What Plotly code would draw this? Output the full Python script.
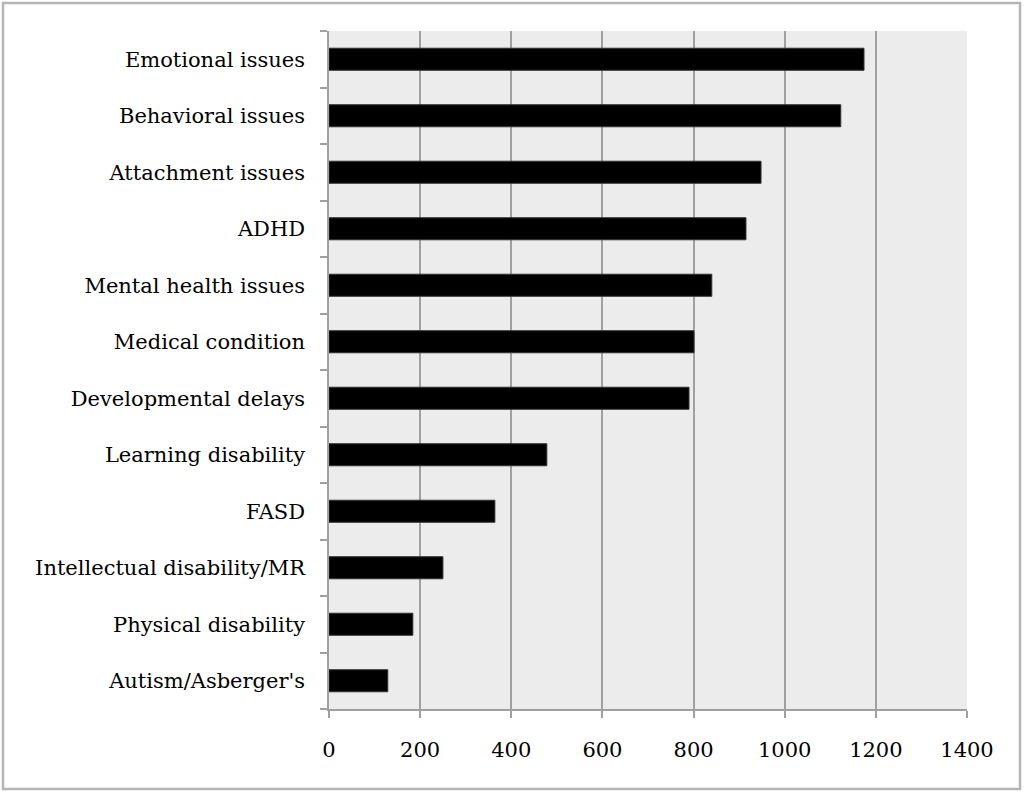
import plotly.graph_objects as go

categories = ["Emotional issues", "Behavioral issues", "Attachment issues", "ADHD",
              "Mental health issues", "Medical condition", "Developmental delays",
              "Learning disability", "FASD", "Intellectual disability/MR",
              "Physical disability", "Autism/Asberger's"]
values = [1174, 1123, 948, 915, 840, 801, 790, 478, 364, 250, 184, 129]
x_ticks = [0, 200, 400, 600, 800, 1000, 1200, 1400]

W, H = 1024, 794
L, R, T, B = 329, 57, 31, 85
pw, ph = W - L - R, H - T - B

fig = go.Figure(go.Bar(
    y=categories[::-1], x=values[::-1], orientation="h",
    marker=dict(color="black", line=dict(color="#333333", width=1)),
))

font = dict(family="DejaVu Serif", size=21, color="#000000")

fig.update_layout(
    width=W, height=H,
    margin=dict(l=L, r=R, t=T, b=B),
    paper_bgcolor="white", plot_bgcolor="#ececec",
    bargap=0.61, showlegend=False,
    font=font,
    xaxis=dict(range=[0, 1400], tickvals=x_ticks, showgrid=True, gridcolor="#a0a0a0",
               gridwidth=1.5, zeroline=False, showline=True, linecolor="#a0a0a0", linewidth=1.5,
               ticks="outside", ticklen=7, tickcolor="#a0a0a0", tickwidth=1.5,
               ticklabelstandoff=14, tickfont=font, fixedrange=True),
    yaxis=dict(showgrid=False, zeroline=False, showline=True, linecolor="#a0a0a0", linewidth=1.5,
               ticks="outside", ticklen=7, tickcolor="#a0a0a0", tickwidth=1.5,
               tickson="boundaries", ticklabelstandoff=18, tickfont=font, fixedrange=True),
    shapes=[dict(type="rect", xref="paper", yref="paper",
                 x0=(3 - L) / pw, x1=(1020 - L) / pw,
                 y0=(H - B - 789) / ph, y1=(H - B - 3) / ph,
                 line=dict(color="#b5b5b5", width=2.5), layer="below")],
)

fig.write_html("out.html")
